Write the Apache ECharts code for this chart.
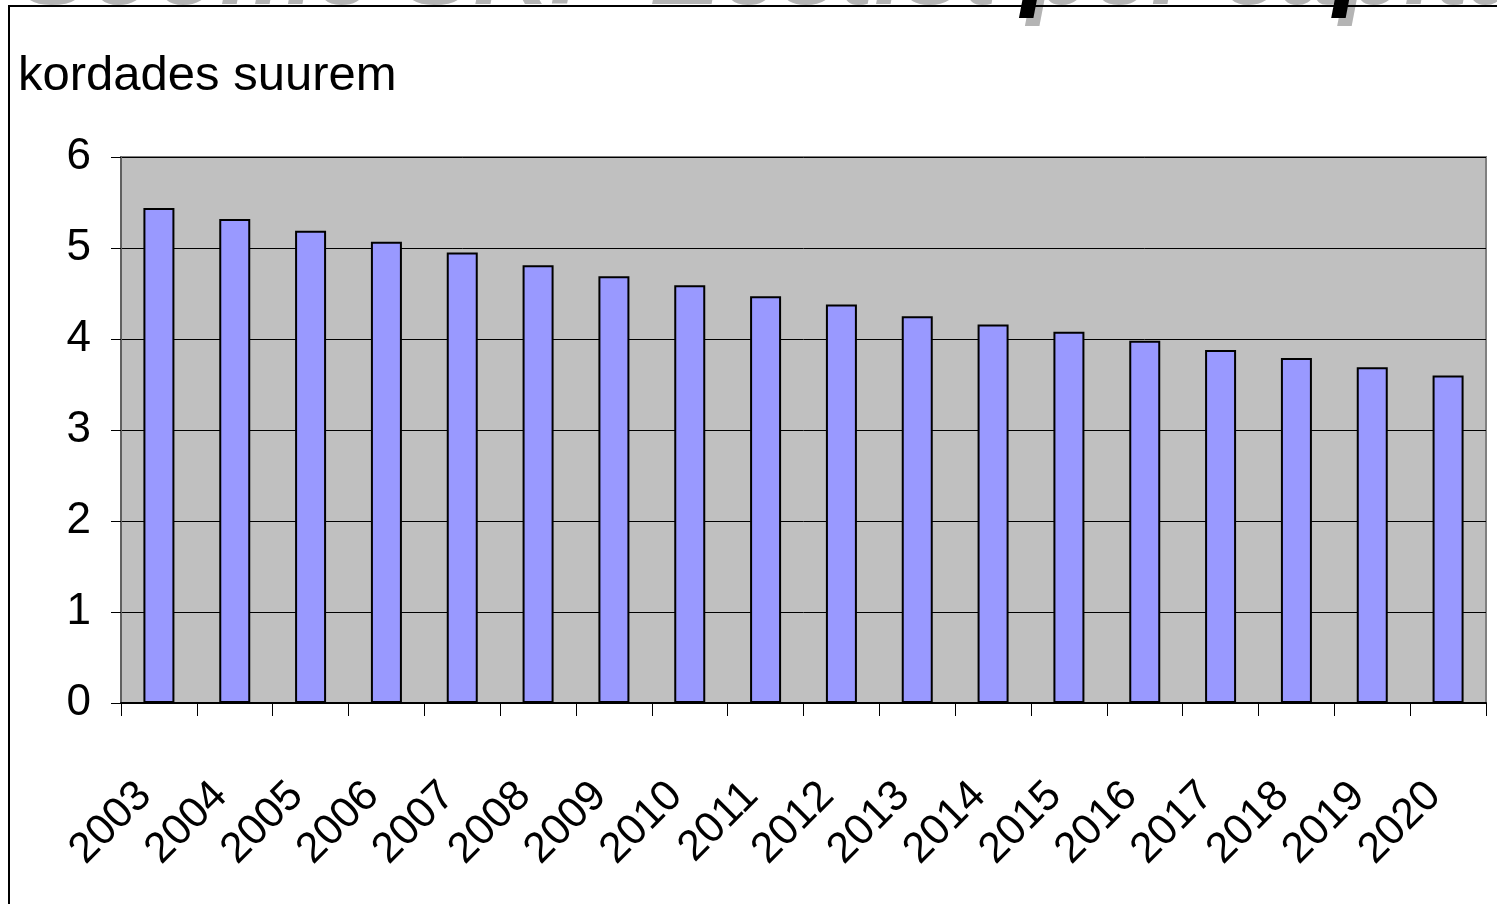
<!DOCTYPE html>
<html>
<head>
<meta charset="utf-8">
<script src="https://cdn.jsdelivr.net/npm/echarts@6/dist/echarts.min.js"></script>
<style>
  html, body { margin: 0; padding: 0; background: #fff; }
  #chart { width: 1497px; height: 904px; }
</style>
</head>
<body>
<div id="chart"></div>
<script>
// aastad ja väärtused (loetud pildilt)
const years = ['2003', '2004', '2005', '2006', '2007', '2008', '2009', '2010', '2011',
  '2012', '2013', '2014', '2015', '2016', '2017', '2018', '2019', '2020']
const ratio = [5.44, 5.32, 5.19, 5.07, 4.95, 4.81, 4.69, 4.59, 4.47,
  4.38, 4.25, 4.16, 4.08, 3.98, 3.88, 3.79, 3.69, 3.60]
const yTicks = [0, 1, 2, 3, 4, 5, 6]

const font = '"Liberation Sans", Arial, sans-serif'
const titleText = 'Soome SKP Eestist per capita'
const titleFont = 'italic bold 106px ' + font
const chart = echarts.init(document.getElementById('chart'))

chart.setOption({
  animation: false,
  backgroundColor: '#fff',
  grid: {
    left: 121, top: 157, right: 11, bottom: 201,
    show: true,
    backgroundColor: '#c0c0c0',
    borderColor: '#808080',
    borderWidth: 2
  },
  graphic: [
    // kaadri raam
    {
      type: 'rect', z: 100,
      shape: { x: 9, y: 6, width: 1600, height: 1000 },
      style: { fill: null, stroke: '#000', lineWidth: 2 }
    },
    // pealkiri (ülevalt ära lõigatud) + vari
    {
      type: 'text', left: 20, top: -78, z: 89,
      style: { text: titleText, font: titleFont, fill: '#b4b4b4' }
    },
    {
      type: 'text', left: 14, top: -86, z: 90,
      style: { text: titleText, font: titleFont, fill: '#000' }
    },
    {
      type: 'text', left: 18, top: 52,
      style: { text: 'kordades suurem', font: '49px ' + font, fill: '#000' }
    }
  ],
  xAxis: {
    type: 'category',
    data: years,
    axisLine: { lineStyle: { color: '#000', width: 2 } },
    axisTick: { show: true, length: 13, alignWithLabel: false, lineStyle: { color: '#000' } },
    axisLabel: {
      interval: 0, rotate: 45, margin: 72,
      padding: [0, 20, 0, 0],
      fontFamily: font, fontSize: 43, color: '#000'
    }
  },
  yAxis: {
    type: 'value',
    min: yTicks[0], max: yTicks[yTicks.length - 1], interval: 1,
    axisLine: { show: true, lineStyle: { color: '#606060', width: 2 } },
    axisTick: { show: true, length: 10, lineStyle: { color: '#000' } },
    axisLabel: { margin: 30, fontFamily: font, fontSize: 44, color: '#000' },
    splitLine: { lineStyle: { color: '#000', width: 1 } }
  },
  series: [{
    type: 'bar',
    data: ratio,
    barWidth: 31,
    itemStyle: { color: '#9999ff', borderColor: '#000', borderWidth: 2 }
  }]
})
</script>
</body>
</html>
